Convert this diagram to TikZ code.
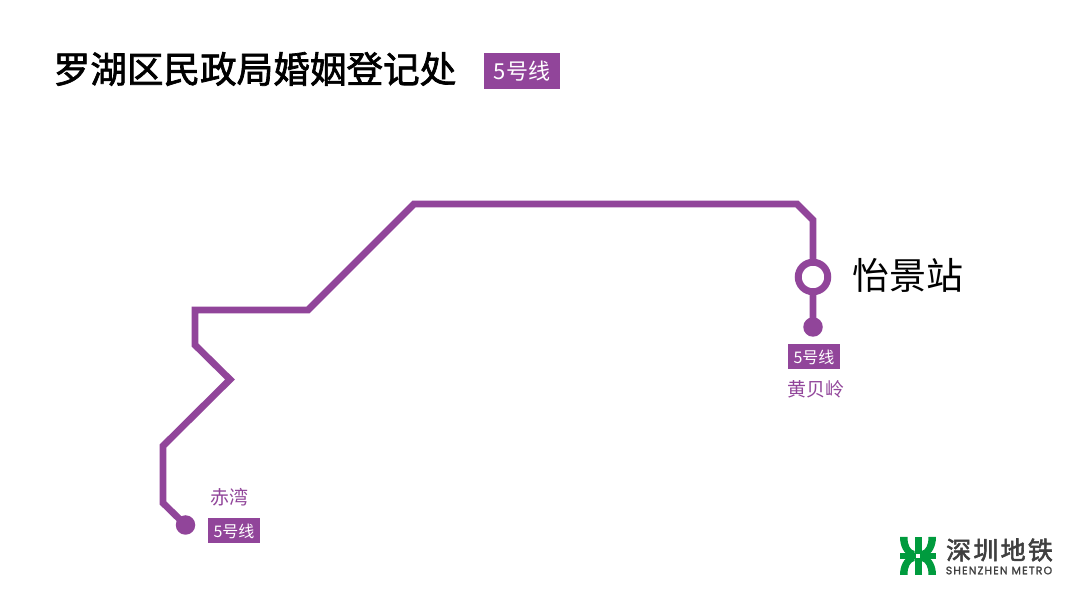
\documentclass[tikz,border=0pt]{standalone}
\usepackage{fontspec}
\setmainfont{Noto Sans CJK SC}
\newfontfamily\cjkreg{Noto Sans CJK SC}
\newfontfamily\cjkbold[FakeBold=1.9]{Noto Sans CJK SC}
\newfontfamily\logofont{Noto Sans CJK SC}[FakeBold=2.2,LetterSpace=9]
\newfontfamily\logolat{Poppins}[FakeBold=1.5,LetterSpace=11]
\definecolor{linepurple}{HTML}{91459A}
\definecolor{logogreen}{HTML}{009B3E}
\definecolor{logogray}{HTML}{3F3F3F}
\tikzset{
  x=1pt,y=-1pt,
  metro/.style={draw=linepurple,line width=6.8pt,line join=miter},
  terminal/.style={circle,fill=linepurple,minimum size=19.5pt,inner sep=0pt},
  station/.style={circle,draw=linepurple,line width=7pt,fill=white,minimum size=29.5pt,inner sep=0pt},
  tag/.style={fill=linepurple,text=white,inner sep=0pt,anchor=center},
  stopname/.style={text=linepurple,inner sep=0pt,font=\cjkreg\fontsize{19}{19}\selectfont},
  logobar/.style={fill=logogreen,draw=none}
}
\begin{document}
\begin{tikzpicture}
\useasboundingbox (0,0) rectangle (1080,601);
\fill[white] (0,0) rectangle (1080,601);
\node[inner sep=0pt,anchor=center] (title) at (255,69) {\cjkbold\fontsize{36.6}{36.6}\selectfont 罗湖区民政局婚姻登记处};
\node[tag,minimum width=76pt,minimum height=36pt,font=\cjkreg\fontsize{22}{22}\selectfont] (titletag) at (522,71) {5号线};
% line
\node[terminal] (chiwan) at (185.5,525) {};
\node[terminal] (huangbeiling) at (813,327) {};
\coordinate (p1) at (163,503);
\coordinate (p2) at (163,446);
\coordinate (p3) at (230,379.5);
\coordinate (p4) at (195,345);
\coordinate (p5) at (195,310);
\coordinate (p6) at (308,310);
\coordinate (p7) at (414,204);
\coordinate (p8) at (797,204);
\coordinate (p9) at (813,220);
\draw[metro] (chiwan.center) -- (p1) -- (p2) -- (p3) -- (p4) -- (p5) -- (p6) -- (p7) -- (p8) -- (p9) -- (huangbeiling.center);
\node[station] (yijing) at (813,277) {};
\node[inner sep=0pt,anchor=center,font=\cjkreg\fontsize{37}{37}\selectfont] (yijinglabel) at (908,275) {怡景站};
\node[tag,minimum width=52pt,minimum height=25pt,font=\cjkreg\fontsize{16}{16}\selectfont] (tagr) at (814,357) {5号线};
\node[stopname] (hbl) at (816,389) {黄贝岭};
\node[stopname] (cw) at (229.5,497) {赤湾};
\node[tag,minimum width=52pt,minimum height=25pt,font=\cjkreg\fontsize{16}{16}\selectfont] (tagl) at (234,531) {5号线};
% logo
\begin{scope}[shift={(918,556)}]
  \fill[logobar] (-3.5,-3) rectangle (3.5,-19);
  \fill[logobar] (-3.5,3) rectangle (3.5,19);
  \fill[logobar] (-18,-3) rectangle (18,3);
  \fill[logobar] (-18,-19) -- (-10.5,-19) .. controls (-10.5,-11) and (-8,-6) .. (-3.5,-5) -- (-3.5,0) -- (-8,0) .. controls (-14,-2) and (-18,-10) .. (-18,-19) -- cycle;
  \fill[logobar] (18,-19) -- (10.5,-19) .. controls (10.5,-11) and (8,-6) .. (3.5,-5) -- (3.5,0) -- (8,0) .. controls (14,-2) and (18,-10) .. (18,-19) -- cycle;
  \fill[logobar] (-18,19) -- (-10.5,19) .. controls (-10.5,11) and (-8,6) .. (-3.5,5) -- (-3.5,0) -- (-8,0) .. controls (-14,2) and (-18,10) .. (-18,19) -- cycle;
  \fill[logobar] (18,19) -- (10.5,19) .. controls (10.5,11) and (8,6) .. (3.5,5) -- (3.5,0) -- (8,0) .. controls (14,2) and (18,10) .. (18,19) -- cycle;
  \fill[white] (-2,-2) rectangle (2,2);
\end{scope}
\node[inner sep=0pt,anchor=center,text=logogray,font=\logofont\fontsize{25}{25}\selectfont] (logocn) at (999.5,550) {深圳地铁};
\node[inner sep=0pt,anchor=center,text=logogray,font=\logolat\fontsize{10.8}{10.8}\selectfont] (logoen) at (999,570.5) {SHENZHEN METRO};
\end{tikzpicture}
\end{document}
